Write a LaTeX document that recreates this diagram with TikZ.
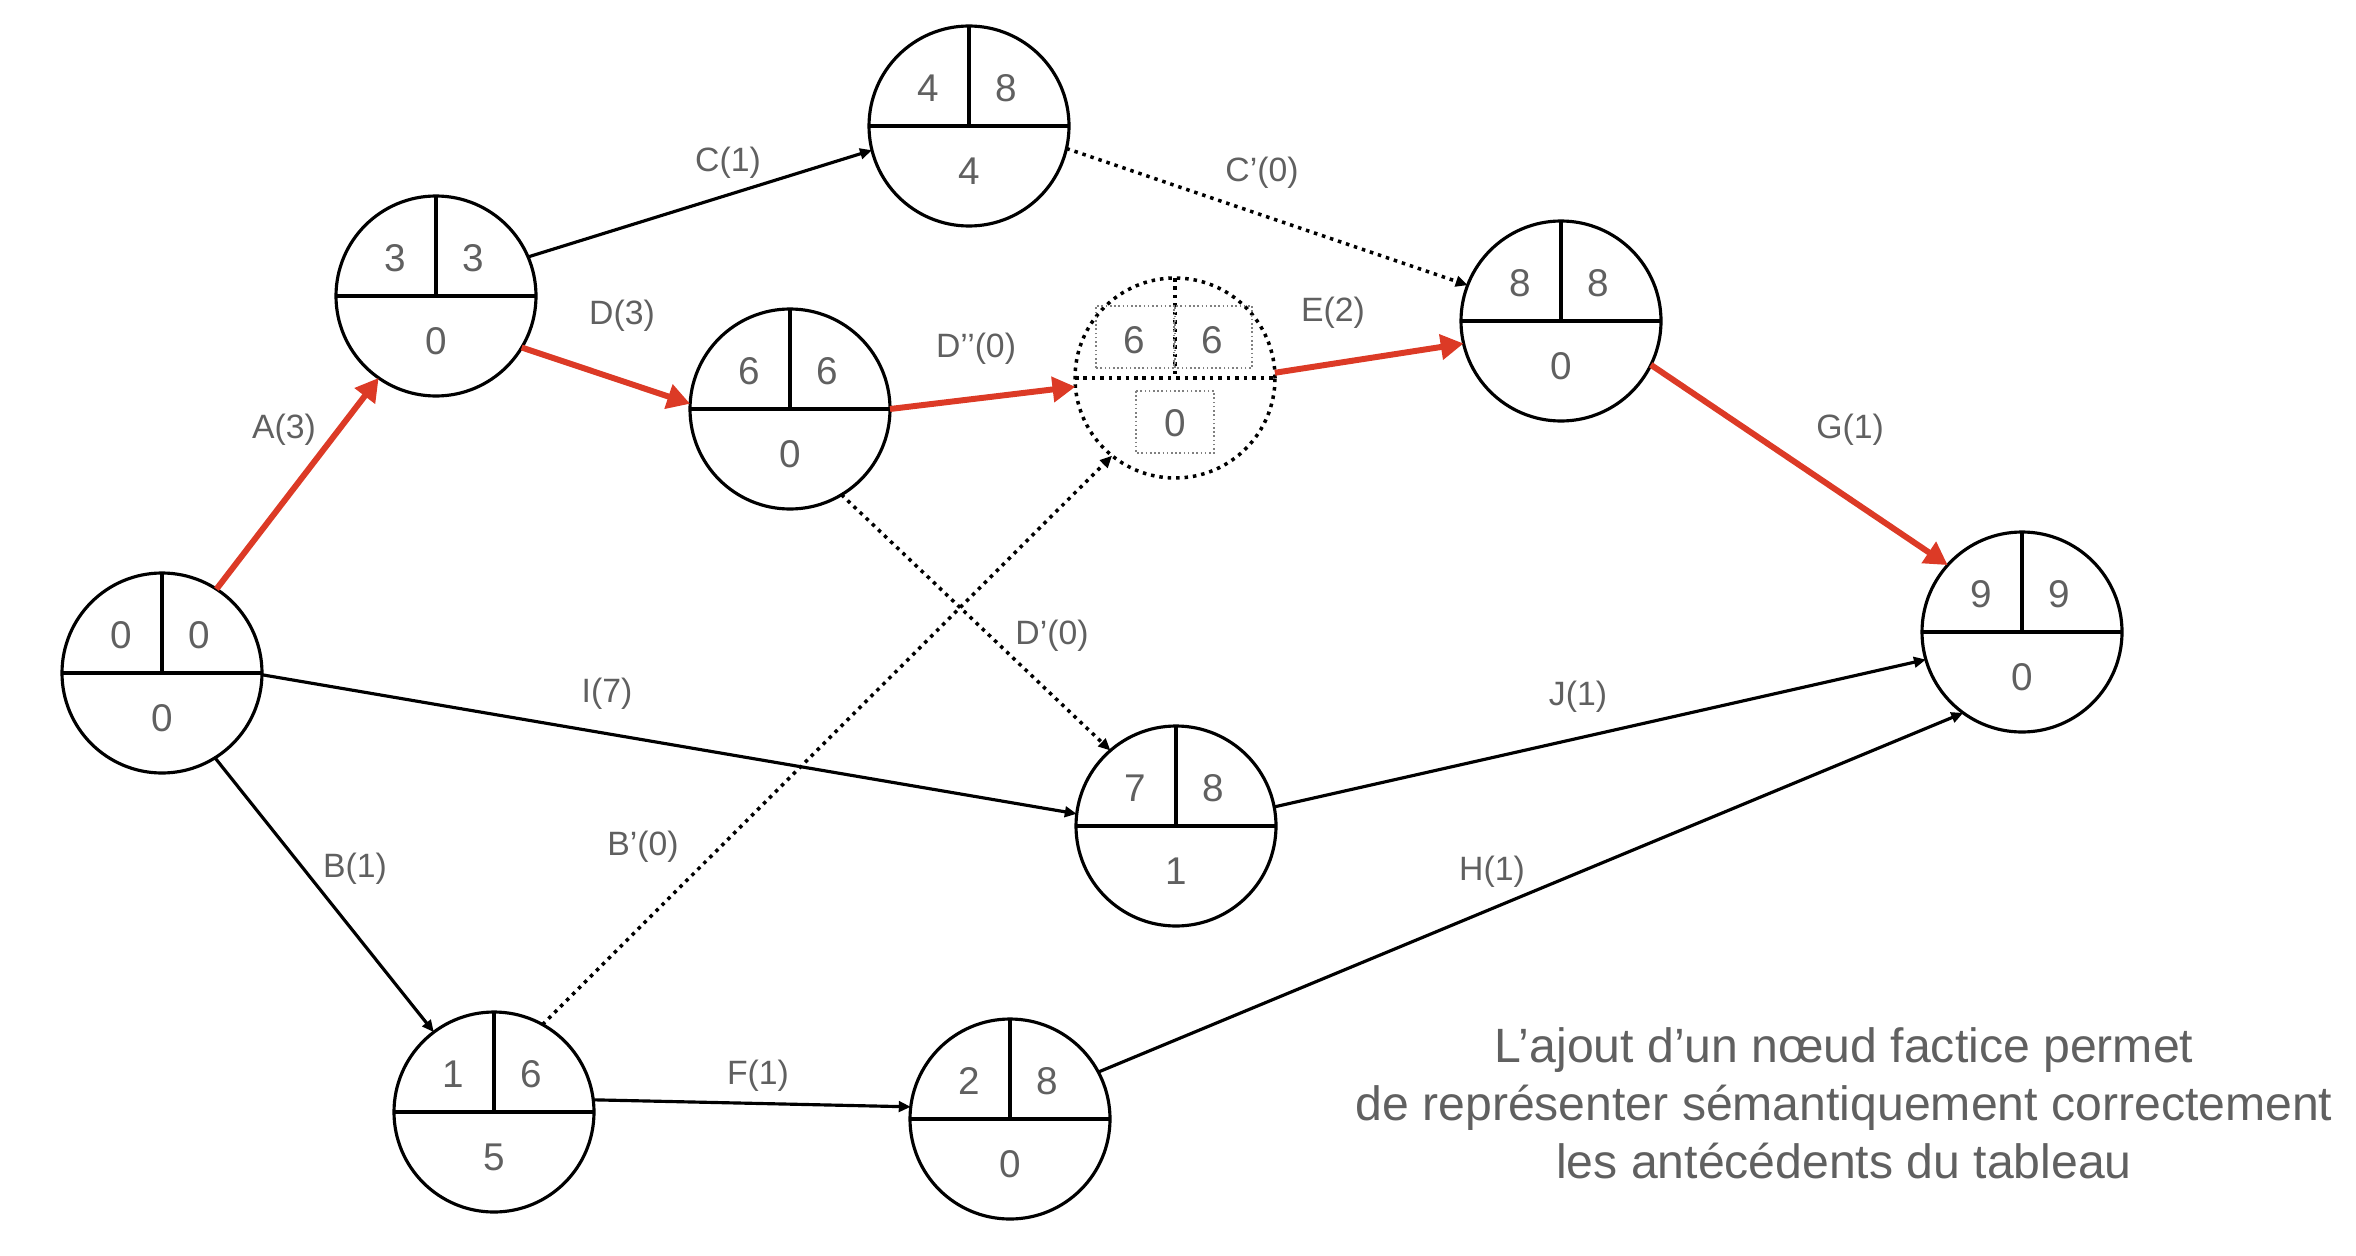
\documentclass[tikz,border=0pt]{standalone}
\usepackage{fontspec}
\setmainfont{Liberation Sans}
\usepackage{xcolor}
\usetikzlibrary{arrows.meta,calc}

\definecolor{critred}{RGB}{220,58,38}
\definecolor{txtgray}{RGB}{96,96,96}

\tikzset{
	evt/.style={circle, draw, line width=0.9pt, minimum size=2cm, inner sep=0pt, outer sep=0pt},
	num/.style={text=txtgray, font=\fontsize{11}{13}\selectfont, inner sep=0pt},
	lbl/.style={text=txtgray, font=\fontsize{9.6}{11}\selectfont, inner sep=0pt},
	act/.style={line width=0.9pt, -{Triangle[length=3.4pt,width=3pt]}},
	fict/.style={act, line width=1pt, dash pattern=on 1pt off 1.4pt},
	crit/.style={line width=1.7pt, draw=critred, -{Triangle[length=6.5pt,width=7pt]}},
	dotline/.style={line width=1pt, dash pattern=on 1pt off 1.4pt},
	dotbox/.style={draw=gray, line width=0.45pt, dash pattern=on 0.45pt off 0.75pt}
}

\begin{document}
\begin{tikzpicture}
		\useasboundingbox (0,0) rectangle (23.56,-12.56);

		% evenements : nom / x / y / plus tot / plus tard / marge
		\foreach \n/\x/\y/\ea/\la/\sl in {n0/1.62/-6.73/0/0/0, n1/4.36/-2.96/3/3/0, n2/9.69/-1.26/4/8/4,
				n3/7.90/-4.09/6/6/0, n4/15.61/-3.21/8/8/0, n5/20.22/-6.32/9/9/0,
				n6/11.76/-8.26/7/8/1, n7/4.94/-11.12/1/6/5, n8/10.10/-11.19/2/8/0} {
			\node[evt] (\n) at (\x,\y) {};
			\draw[line width=0.9pt] (\n.west) -- (\n.east) (\n.north) -- (\n.center);
			\node[num] (\n-ea) at ($(\n)+(-0.41,0.38)$) {\ea};
			\node[num] (\n-la) at ($(\n)+(0.37,0.38)$) {\la};
			\node[num] (\n-sl) at ($(\n)+(0,-0.45)$) {\sl};
		}

		% noeud factice
		\node[evt, draw=none] (nd) at (11.75,-3.78) {};
		\draw[dotline] (nd.center) circle (1cm);
		\draw[dotline] (nd.west) -- (nd.east) (nd.north) -- (nd.center);
		\draw[dotbox] ($(nd)+(-0.79,0.10)$) rectangle ($(nd)+(-0.01,0.72)$);
		\draw[dotbox] ($(nd)+(0.0,0.10)$) rectangle ($(nd)+(0.77,0.72)$);
		\draw[dotbox] ($(nd)+(-0.39,-0.13)$) rectangle ($(nd)+(0.39,-0.75)$);
		\node[num] (nd-ea) at ($(nd)+(-0.41,0.38)$) {6};
		\node[num] (nd-la) at ($(nd)+(0.37,0.38)$) {6};
		\node[num] (nd-sl) at ($(nd)+(0,-0.45)$) {0};

		% taches
		\draw[crit] (n0.57) -- (n1.235);
		\draw[act] (n1.23) -- (n2.194);
		\draw[crit] (n1.-31) -- (n3.177);
		\draw[fict] (n2.-13) -- (n4.159);
		\draw[crit] (n3.0) -- (nd.185);
		\draw[crit] (nd.3) -- (n4.193);
		\draw[crit] (n4.-26) -- (n5.138);
		\draw[fict] (n3.-59) -- (n6.131);
		\draw[act] (n0.-1) -- (n6.173);
		\draw[act] (n6.11) -- (n5.196);
		\draw[act] (n0.-58) -- (n7.127);
		\draw[fict] (n7.61) -- (nd.231);
		\draw[act] (n7.7) -- (n8.173);
		\draw[act] (n8.28) -- (n5.234);

		\node[lbl] (lA) at (2.84,-4.30) {A(3)};
		\node[lbl] (lC) at (7.28,-1.63) {C(1)};
		\node[lbl] (lD) at (6.22,-3.16) {D(3)};
		\node[lbl] (lCp) at (12.62,-1.73) {C’(0)};
		\node[lbl] (lDpp) at (9.76,-3.49) {D’’(0)};
		\node[lbl] (lE) at (13.33,-3.13) {E(2)};
		\node[lbl] (lG) at (18.50,-4.30) {G(1)};
		\node[lbl] (lDp) at (10.52,-6.36) {D’(0)};
		\node[lbl] (lI) at (6.07,-6.94) {I(7)};
		\node[lbl] (lJ) at (15.78,-6.97) {J(1)};
		\node[lbl] (lB) at (3.55,-8.69) {B(1)};
		\node[lbl] (lBp) at (6.43,-8.47) {B’(0)};
		\node[lbl] (lH) at (14.92,-8.72) {H(1)};
		\node[lbl] (lF) at (7.58,-10.76) {F(1)};

		\node[text=txtgray, font=\fontsize{13.7}{16.5}\selectfont, align=center] (note) at (18.44,-11.03)
			{L’ajout d’un nœud factice permet\\de représenter sémantiquement correctement\\les antécédents du tableau};
	\end{tikzpicture}
\end{document}
